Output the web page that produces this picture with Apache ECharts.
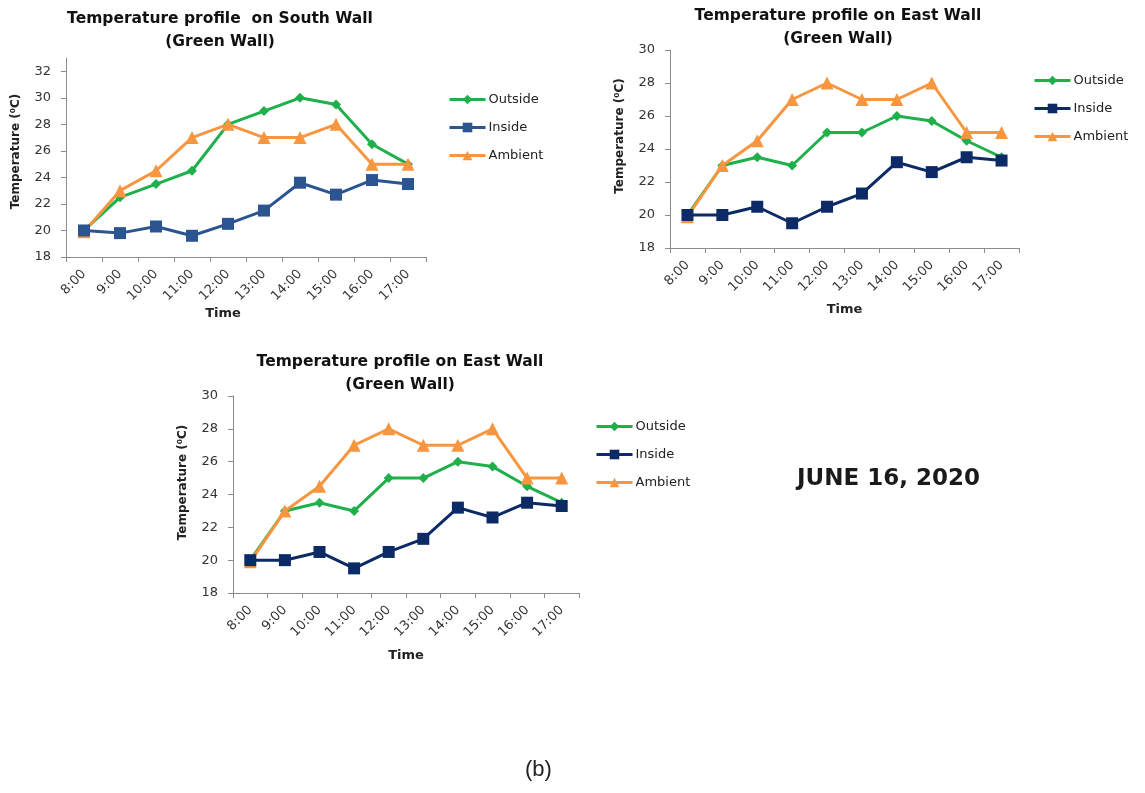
<!DOCTYPE html>
<html>
<head>
<meta charset="utf-8">
<script src="https://cdn.jsdelivr.net/npm/echarts@6/dist/echarts.min.js"></script>
<style>
  html, body { margin: 0; padding: 0; background: #fff; }
  #chart { width: 1145px; height: 793px; }
</style>
</head>
<body>
<div id="chart"></div>
<script>
// Hourly readings, 8:00 to 17:00
const times = ['8:00', '9:00', '10:00', '11:00', '12:00', '13:00', '14:00', '15:00', '16:00', '17:00'];

// South wall (green wall)
const southOutside = [20, 22.5, 23.5, 24.5, 28, 29, 30, 29.5, 26.5, 25];
const southInside  = [20, 19.8, 20.3, 19.6, 20.5, 21.5, 23.6, 22.7, 23.8, 23.5];
const southAmbient = [19.9, 23, 24.5, 27, 28, 27, 27, 28, 25, 25];

// East wall (green wall)
const eastOutside = [20, 23, 23.5, 23, 25, 25, 26, 25.7, 24.5, 23.5];
const eastInside  = [20, 20, 20.5, 19.5, 20.5, 21.3, 23.2, 22.6, 23.5, 23.3];
const eastAmbient = [19.9, 23, 24.5, 27, 28, 27, 27, 28, 25, 25];

const southTicks = [18, 20, 22, 24, 26, 28, 30, 32];
const eastTicks  = [18, 20, 22, 24, 26, 28, 30];

const GREEN = '#1fb04c';
const BLUE = '#2b5591';
const NAVY = '#0c2a66';
const ORANGE = '#f7963f';

const labelColor = '#333';
const axisColor = '#8c8c8c';
const baseFont = 'DejaVu Sans';

const panels = [
  { title: 'Temperature profile  on South Wall\n(Green Wall)', titleX: 215, titleY: 2,
    grid: { left: 66, top: 58, width: 360, height: 199 }, min: 18, max: 33, ticks: southTicks,
    timeGap: 50, timePad: [0, 46, 0, 0], tempPad: [0, 0, 0, 12],
    legend: { left: 443, top: 88 }, inside: BLUE,
    data: [southOutside, southInside, southAmbient] },
  { title: 'Temperature profile on East Wall\n(Green Wall)', titleX: 833, titleY: -1,
    grid: { left: 670, top: 50, width: 349, height: 198 }, min: 18, max: 30, ticks: eastTicks,
    timeGap: 55, timePad: 0, tempPad: [0, 0, 0, 26],
    legend: { left: 1028, top: 69 }, inside: NAVY,
    data: [eastOutside, eastInside, eastAmbient] },
  { title: 'Temperature profile on East Wall\n(Green Wall)', titleX: 395, titleY: 345,
    grid: { left: 233, top: 396, width: 346, height: 197 }, min: 18, max: 30, ticks: eastTicks,
    timeGap: 56, timePad: 0, tempPad: [0, 0, 0, 24],
    legend: { left: 590, top: 415 }, inside: NAVY,
    data: [eastOutside, eastInside, eastAmbient] }
];

const names = ['Outside', 'Inside', 'Ambient'];
const symbols = ['diamond', 'rect', 'triangle'];
const symbolSizes = [10, 12, 13];

const option = {
  backgroundColor: '#fff',
  animation: false,
  title: [],
  grid: [],
  xAxis: [],
  yAxis: [],
  legend: [],
  series: [],
  graphic: [
    { type: 'text', left: 797, top: 468,
      style: { text: 'JUNE 16, 2020', font: 'bold 23px "DejaVu Sans"', fill: '#1a1a1a' } },
    { type: 'text', left: 525, top: 759,
      style: { text: '(b)', font: '22px "Liberation Sans"', fill: '#222' } }
  ]
};

panels.forEach((p, i) => {
  const colors = [GREEN, p.inside, ORANGE];
  option.title.push({
    text: p.title, left: p.titleX, top: p.titleY, textAlign: 'center',
    textStyle: { fontFamily: baseFont, fontWeight: 'bold', fontSize: 15.5, lineHeight: 23, color: '#111' }
  });
  option.grid.push(Object.assign({ containLabel: false }, p.grid));
  option.xAxis.push({
    type: 'category', gridIndex: i, data: times, boundaryGap: true,
    name: 'Time', nameLocation: 'middle', nameGap: p.timeGap,
    nameTextStyle: { fontFamily: baseFont, fontWeight: 'bold', fontSize: 13, color: '#222', padding: p.timePad },
    axisLine: { lineStyle: { color: axisColor, width: 1 } },
    axisTick: { show: true, alignWithLabel: false, length: 5, lineStyle: { color: axisColor } },
    axisLabel: { rotate: 45, interval: 0, fontFamily: baseFont, fontSize: 13, color: labelColor, margin: 15 },
    splitLine: { show: false }
  });
  option.yAxis.push({
    type: 'value', gridIndex: i, min: p.min, max: p.max, interval: 2,
    name: 'Temperature (⁰C)', nameLocation: 'middle', nameGap: 44, nameRotate: 90,
    nameTextStyle: { fontFamily: baseFont, fontWeight: 'bold', fontSize: 12, color: '#222', padding: p.tempPad },
    axisLine: { show: true, lineStyle: { color: axisColor, width: 1 } },
    axisTick: { show: true, length: 5, customValues: p.ticks, lineStyle: { color: axisColor } },
    axisLabel: { customValues: p.ticks, fontFamily: baseFont, fontSize: 13, color: labelColor, margin: 15 },
    splitLine: { show: false }
  });
  option.legend.push({
    orient: 'vertical', left: p.legend.left, top: p.legend.top,
    itemWidth: 36, itemHeight: 12, itemGap: 15,
    textStyle: { fontFamily: baseFont, fontSize: 13, color: '#222', padding: [0, 0, 0, -2] },
    selectedMode: false,
    data: names.map((n, k) => ({
      name: n,
      itemStyle: { color: colors[k] }, lineStyle: { color: colors[k], width: 3 }
    }))
  });
  names.forEach((n, k) => {
    option.series.push({
      type: 'line', name: n, xAxisIndex: i, yAxisIndex: i,
      data: p.data[k], symbol: symbols[k], symbolSize: symbolSizes[k],
      showAllSymbol: true,
      itemStyle: { color: colors[k] },
      lineStyle: { color: colors[k], width: 3 },
      z: k === 2 ? 3 : (k === 0 ? 2 : 4)
    });
  });
});

const chart = echarts.init(document.getElementById('chart'), null, { renderer: 'canvas' });
chart.setOption(option);
</script>
</body>
</html>
